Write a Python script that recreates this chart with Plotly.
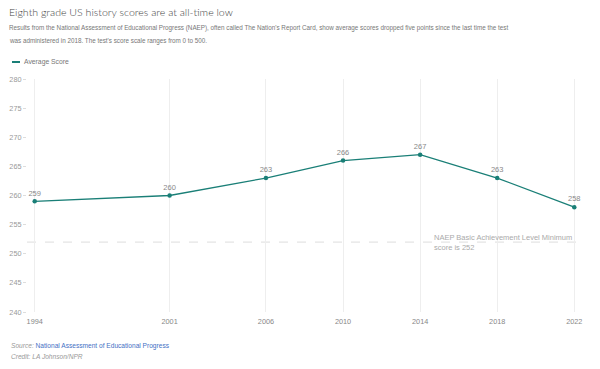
import plotly.graph_objects as go

years = [1994, 2001, 2006, 2010, 2014, 2018, 2022]
scores = [259, 260, 263, 266, 267, 263, 258]
y_ticks = [240, 245, 250, 255, 260, 265, 270, 275, 280]
basic_level = 252

TEAL = "#1a7f77"
FONT = "Liberation Sans, Arial, sans-serif"

fig = go.Figure()
fig.add_trace(go.Scatter(
    x=years, y=scores, mode="lines+markers+text",
    text=[str(s) for s in scores], textposition="top center",
    textfont=dict(family=FONT, size=7.5, color="#888888"),
    line=dict(color=TEAL, width=1.3),
    marker=dict(color=TEAL, size=4.5),
    name="Average Score", showlegend=False, cliponaxis=False,
))

fig.add_shape(type="line", xref="paper", yref="y", x0=0, x1=1,
              y0=basic_level, y1=basic_level,
              line=dict(color="#dddddd", width=1, dash="dash"), layer="below")
fig.add_annotation(x=2014.6, y=basic_level, xref="x", yref="y",
                   text="NAEP Basic Achievement Level Minimum<br>score is 252",
                   showarrow=False, xanchor="left", yanchor="middle", align="left",
                   font=dict(family=FONT, size=7.5, color="#aaaaaa"))

W, H = 600, 369
L, R, T, B = 27, 18, 79, 57
pw, ph = W - L - R, H - T - B

def px(xp):
    return (xp - L) / pw

def py(yp):
    return (H - B - yp) / ph

def note(xp, yp, text, size, color, family=FONT, weight=None):
    f = dict(family=family, size=size, color=color)
    if weight:
        f["weight"] = weight
    fig.add_annotation(x=px(xp - 2), y=py(yp), xref="paper", yref="paper",
                       text=text, showarrow=False, xanchor="left", yanchor="middle",
                       align="left", font=f)

note(9, 12, "Eighth grade US history scores are at all-time low", 10.6, "#444444",
     family="Lato, sans-serif", weight=300)
note(9, 28.5, "Results from the National Assessment of Educational Progress (NAEP), often called The Nation's Report Card, show average scores dropped five points since the last time the test",
     6.3, "#777777")
note(9, 41.5, "was administered in 2018. The test's score scale ranges from 0 to 500.", 6.3, "#777777")
# legend
fig.add_shape(type="line", xref="paper", yref="paper", x0=px(12), x1=px(20),
              y0=py(62), y1=py(62), line=dict(color=TEAL, width=2))
note(24, 62, "Average Score", 6.8, "#777777")
# source / credit
note(11, 345.5, "<i>Source:</i> <span style='color:#4470c4'>National Assessment of Educational Progress</span>",
     6.6, "#999999")
note(11, 356.5, "<i>Credit: LA Johnson/NPR</i>", 6.6, "#999999")

fig.update_layout(
    width=W, height=H,
    margin=dict(l=L, r=R, t=T, b=B),
    paper_bgcolor="white", plot_bgcolor="white",
    showlegend=False,
    xaxis=dict(range=[1993.6, 2022.4], tickvals=years, ticktext=[str(y) for y in years],
               showgrid=True, gridcolor="#eeeeee", gridwidth=1, zeroline=False,
               showline=False, ticks="", ticklabelstandoff=4, automargin=False,
               tickfont=dict(family=FONT, size=7.3, color="#888888")),
    yaxis=dict(range=[240, 280], tickvals=y_ticks, showgrid=False, zeroline=False,
               showline=False, ticks="outside", ticklen=3, tickcolor="#dddddd",
               automargin=False,
               tickfont=dict(family=FONT, size=7.3, color="#999999")),
)

fig.write_html("out.html", config={"displayModeBar": False},
               post_script="document.body.style.margin='0';")
